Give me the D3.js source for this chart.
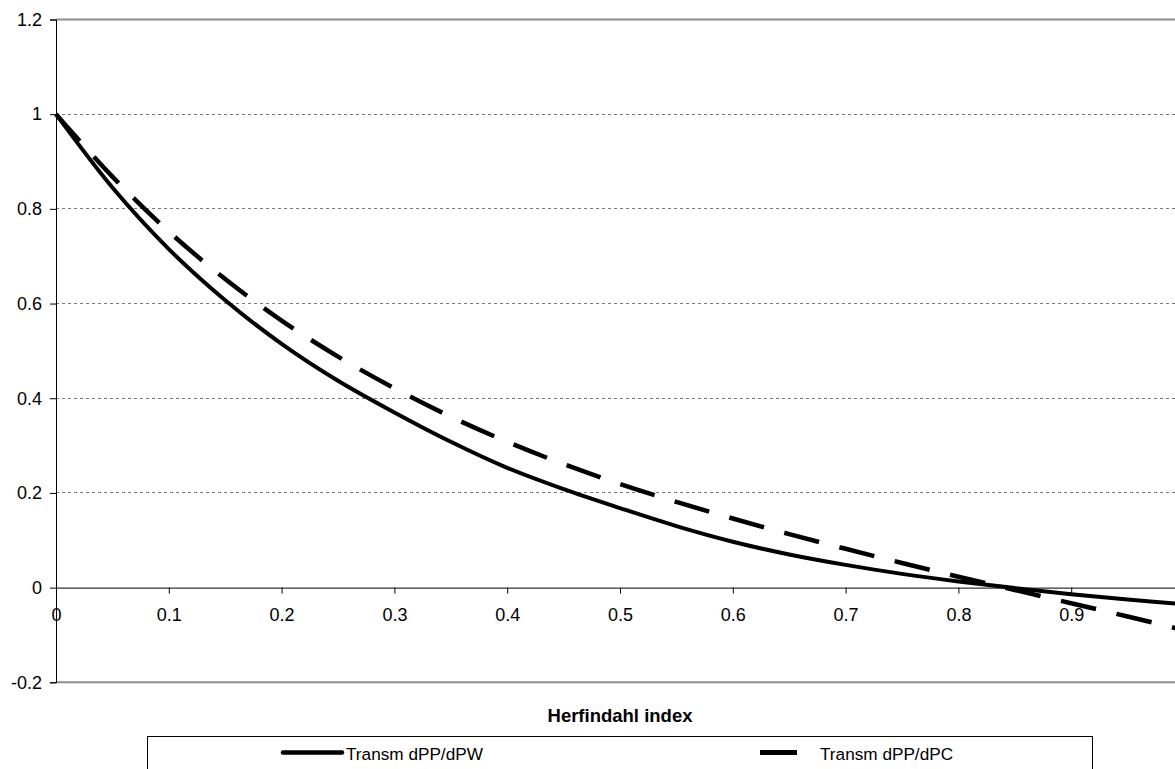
<!DOCTYPE html>
<html>
<head>
<meta charset="utf-8">
<script src="https://cdn.jsdelivr.net/npm/d3@7"></script>
<style>
  html, body { margin: 0; padding: 0; background: #fff; overflow: hidden; }
  text { font-family: "Liberation Sans", Arial, sans-serif; }
</style>
</head>
<body>
<svg id="chart" width="1175" height="769"></svg>
<script>
// ---- data ----
const herfindahl = [0, 0.05, 0.1, 0.15, 0.2, 0.25, 0.3, 0.35, 0.4, 0.45, 0.5, 0.55, 0.6, 0.65, 0.7, 0.75, 0.8, 0.85, 0.9, 0.95, 1.0];
const transmPW   = [1.0, 0.845, 0.715, 0.607, 0.515, 0.437, 0.37, 0.308, 0.253, 0.208, 0.168, 0.13, 0.097, 0.07, 0.048, 0.029, 0.013, -0.001, -0.014, -0.025, -0.035];
const transmPC   = [1.0, 0.868, 0.752, 0.652, 0.564, 0.488, 0.421, 0.361, 0.308, 0.261, 0.219, 0.181, 0.146, 0.113, 0.082, 0.052, 0.023, -0.005, -0.033, -0.061, -0.09];
const seriesNames = ["Transm dPP/dPW", "Transm dPP/dPC"];
const yTicks = [-0.2, 0, 0.2, 0.4, 0.6, 0.8, 1, 1.2];
const xTicks = [0, 0.1, 0.2, 0.3, 0.4, 0.5, 0.6, 0.7, 0.8, 0.9];
const xTitle = "Herfindahl index";

// ---- layout ----
const svg = d3.select("#chart");
const x = d3.scaleLinear().domain([0, 1]).range([56, 1184]);
const y = d3.scaleLinear().domain([-0.2, 1.2]).range([682.3, 19.5]);
const tickFont = 18;
const dashPattern = "36,21";

// gridlines (dotted) for inner values
svg.append("g").selectAll("line")
  .data(yTicks.filter(v => v > 0 && v < 1.2))
  .join("line")
  .attr("x1", x(0)).attr("x2", 1175)
  .attr("y1", d => y(d)).attr("y2", d => y(d))
  .attr("stroke", "#7a7a7a").attr("stroke-width", 1)
  .attr("stroke-dasharray", "3,3")
  .attr("shape-rendering", "crispEdges");

// top and bottom plot borders (solid gray)
svg.append("g").selectAll("line")
  .data([1.2, -0.2])
  .join("line")
  .attr("x1", x(0)).attr("x2", 1175)
  .attr("y1", d => y(d)).attr("y2", d => y(d))
  .attr("stroke", "#8c8c8c").attr("stroke-width", 2);

// y axis
const yAxis = d3.axisLeft(y).tickValues(yTicks).tickSize(6).tickPadding(8)
  .tickFormat(d => String(Math.round(d * 10) / 10));
const gy = svg.append("g").attr("transform", `translate(${x(0)},0)`).call(yAxis);
gy.select(".domain").attr("stroke", "#000");
gy.selectAll(".tick line").attr("stroke", "#000");
gy.selectAll(".tick text").attr("font-size", tickFont).attr("fill", "#000")
  .attr("font-family", "Liberation Sans, Arial, sans-serif");

// x axis at y=0
const xAxis = d3.axisBottom(x).tickValues(xTicks).tickSize(6).tickPadding(15)
  .tickSizeOuter(0)
  .tickFormat(d => String(Math.round(d * 10) / 10));
const gx = svg.append("g").attr("transform", `translate(0,${y(0)})`).call(xAxis);
gx.select(".domain").attr("stroke", "#000");
gx.selectAll(".tick line").attr("stroke", "#000");
gx.selectAll(".tick text").attr("font-size", tickFont).attr("fill", "#000")
  .attr("font-family", "Liberation Sans, Arial, sans-serif");

// lines
const pts1 = herfindahl.map((h, i) => [h, transmPW[i]]);
const pts2 = herfindahl.map((h, i) => [h, transmPC[i]]);
const line = d3.line().x(d => x(d[0])).y(d => y(d[1])).curve(d3.curveCatmullRom.alpha(0.5));

svg.append("path").datum(pts2).attr("d", line)
  .attr("fill", "none").attr("stroke", "#000").attr("stroke-width", 4.5)
  .attr("stroke-dasharray", dashPattern);
svg.append("path").datum(pts1).attr("d", line)
  .attr("fill", "none").attr("stroke", "#000").attr("stroke-width", 4)
  .attr("stroke-linejoin", "round");

// x title
svg.append("text").attr("x", 620).attr("y", 721.5)
  .attr("text-anchor", "middle").attr("font-weight", "bold")
  .attr("font-size", 18.5).text(xTitle);

// legend
svg.append("rect").attr("x", 147.5).attr("y", 736.5)
  .attr("width", 945).attr("height", 60)
  .attr("fill", "#fff").attr("stroke", "#000").attr("stroke-width", 1);

const legendItems = [
  { name: seriesNames[0], x0: 283, len: 59, dash: false, tx: 346 },
  { name: seriesNames[1], x0: 760, len: 37, dash: true, tx: 820 }
];
const lg = svg.append("g");
legendItems.forEach(it => {
  lg.append("line").attr("x1", it.x0).attr("x2", it.x0 + it.len)
    .attr("y1", 752.5).attr("y2", 752.5)
    .attr("stroke", "#000").attr("stroke-width", it.dash ? 5 : 4.5)
    .attr("stroke-linecap", it.dash ? "butt" : "round");
  lg.append("text").attr("x", it.tx).attr("y", 759.5)
    .attr("font-size", 17.2).text(it.name);
});
</script>
</body>
</html>
